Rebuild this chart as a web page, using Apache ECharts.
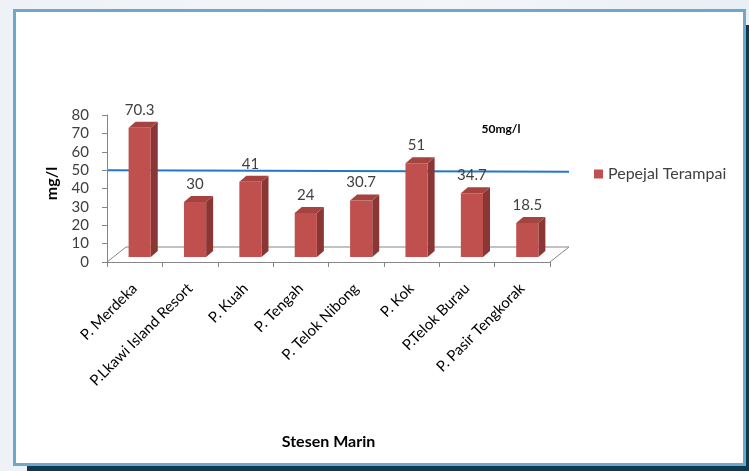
<!DOCTYPE html>
<html>
<head>
<meta charset="utf-8">
<script src="https://cdn.jsdelivr.net/npm/echarts@6/dist/echarts.min.js"></script>
<style>
html,body{margin:0;padding:0;width:749px;height:471px;overflow:hidden;background:linear-gradient(90deg,#eef2f6,#f3f6f9 60%,#e9eff5);}
#c{width:749px;height:471px;}
</style>
</head>
<body>
<div id="c"></div>
<script>
const categories = ['P. Merdeka','P.Lkawi Island Resort','P. Kuah','P. Tengah','P. Telok Nibong','P. Kok','P.Telok Burau','P. Pasir Tengkorak'];
const values = [70.3, 30, 41, 24, 30.7, 51, 34.7, 18.5];
const seriesName = 'Pepejal Terampai';
const yMin = 0, yMax = 80, yInterval = 10;
const threshold = [50, 49.1];
const thresholdLabel = '50mg/l';
const xTitle = 'Stesen Marin';
const yTitle = 'mg/l';

const FONT = 'Lato, "Open Sans", sans-serif';
const AXIS = '#868686';

function renderBar(params, api) {
  const i = api.value(0), v = api.value(1);
  const band = api.size([1, 0])[0];
  const base = api.coord([i, 0]);
  const top = api.coord([i, v]);
  const cx = base[0];
  const w = band * 0.4;
  const x0 = cx - band * 0.11, x1 = x0 + w;
  const off = 5;
  const yb = base[1] - off, yt = top[1] - off;
  const dx = 7, dy = 6;
  return {
    type: 'group',
    children: [
      {type: 'polygon', shape: {points: [[x1, yt], [x1 + dx, yt - dy], [x1 + dx, yb - dy], [x1, yb]]}, style: {fill: '#8a3634'}},
      {type: 'polygon', shape: {points: [[x0, yt], [x0 + dx, yt - dy], [x1 + dx, yt - dy], [x1, yt]]}, style: {fill: '#a44340'}},
      {type: 'rect', shape: {x: x0, y: yt, width: w, height: yb - yt}, style: {fill: '#c0504d'}},
      {type: 'text', style: {text: String(v), x: (x0 + x1) / 2, y: yt - 18, align: 'center', verticalAlign: 'middle', fontSize: 15, fontFamily: FONT, fill: '#404040'}}
    ]
  };
}

function renderFloor(params, api) {
  const n = categories.length;
  const band = api.size([1, 0])[0];
  const left = api.coord([0, 0])[0] - band / 2;
  const right = api.coord([n - 1, 0])[0] + band / 2;
  const y0 = api.coord([0, 0])[1];
  const dx = 19, dy = 15;
  const ls = {stroke: AXIS, lineWidth: 1, fill: null};
  const yl = api.coord([0, threshold[0]])[1];
  const yr = api.coord([0, threshold[1]])[1];
  return {
    type: 'group',
    children: [
      {type: 'polyline', shape: {points: [[left, y0], [left + dx, y0 - dy], [right + dx, y0 - dy], [right, y0]]}, style: ls},
      {type: 'line', z2: 10, shape: {x1: left + 1, y1: yl, x2: right + dx, y2: yr}, style: {stroke: '#2277c6', lineWidth: 2}}
    ]
  };
}

const chart = echarts.init(document.getElementById('c'), null, {renderer: 'canvas'});
chart.setOption({
  animation: false,
  backgroundColor: 'transparent',
  graphic: [
    {type: 'rect', z: -10, shape: {x: 27, y: 25, width: 722, height: 446}, style: {fill: '#0b3a52'}},
    {type: 'rect', z: -9, shape: {x: 13, y: 9, width: 733, height: 457}, style: {fill: '#6ea8c8'}},
    {type: 'rect', z: -8, shape: {x: 16, y: 12, width: 727, height: 451}, style: {fill: '#ffffff'}},
    {type: 'text', z: 10, style: {text: thresholdLabel, x: 501, y: 129, align: 'center', verticalAlign: 'middle', fontSize: 12, fontWeight: 'bold', fontFamily: FONT, fill: '#000'}}
  ],
  grid: {left: 107, right: 199, top: 115, bottom: 209, containLabel: false},
  legend: {
    data: [seriesName], left: 589, top: 161, icon: 'rect', itemWidth: 9, itemHeight: 9, itemGap: 5,
    textStyle: {fontSize: 16, fontFamily: FONT, color: '#404040'}
  },
  xAxis: {
    type: 'category', data: categories,
    name: xTitle, nameLocation: 'middle', nameGap: 172,
    nameTextStyle: {fontSize: 16, fontWeight: 'bold', fontFamily: FONT, color: '#000'},
    axisLine: {lineStyle: {color: AXIS}},
    axisTick: {show: true, length: 5, lineStyle: {color: AXIS}},
    axisLabel: {rotate: 45, fontSize: 15, fontFamily: FONT, color: '#000', margin: 24, interval: 0},
    splitLine: {show: false}
  },
  yAxis: {
    type: 'value', min: yMin, max: yMax, interval: yInterval,
    name: yTitle, nameLocation: 'middle', nameGap: 47, nameRotate: 90,
    nameTextStyle: {fontSize: 16, fontWeight: 'bold', fontFamily: FONT, color: '#000', padding: [0, 0, 0, 10]},
    axisLine: {show: true, lineStyle: {color: AXIS}},
    axisTick: {show: true, length: 5, lineStyle: {color: AXIS}},
    axisLabel: {fontSize: 15, fontFamily: FONT, color: '#404040', margin: 18},
    splitLine: {show: false}
  },
  series: [
    {type: 'custom', name: 'floor', data: [[0, 0]], renderItem: renderFloor, clip: false, silent: true, z: 1},
    {type: 'custom', name: seriesName, data: values.map((v, i) => [i, v]), renderItem: renderBar, clip: false, z: 2,
     itemStyle: {color: '#c0504d'}, encode: {x: 0, y: 1}}
  ]
});
</script>
</body>
</html>
